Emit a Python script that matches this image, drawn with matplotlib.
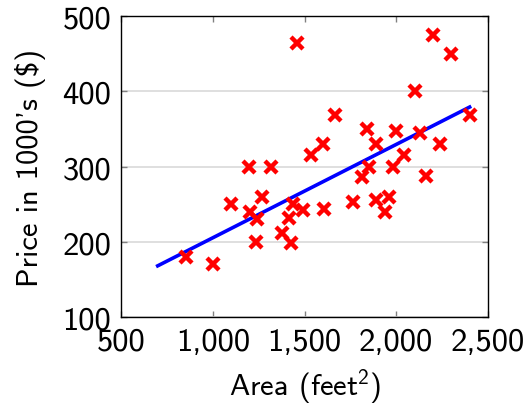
import matplotlib
matplotlib.use("Agg")
import matplotlib.pyplot as plt
from matplotlib.ticker import FuncFormatter

plt.rcParams['font.family'] = ['cmss10', 'DejaVu Sans']
plt.rcParams['mathtext.fontset'] = 'custom'
plt.rcParams['mathtext.rm'] = 'cmss10'
plt.rcParams['axes.formatter.use_mathtext'] = True

# house sizes (feet^2) and prices (1000's of $)
area = [2104, 1600, 2400, 1416, 1985, 1534, 1427, 1380, 1494, 1940,
        2000, 1890, 1268, 2300, 1320, 1236, 1767, 1888, 1604, 1962,
        1100, 1458, 2200, 1839, 1000, 2040, 1811, 1437, 1239, 2132,
        2162, 1664, 2238, 1200, 852, 1852, 1203]
price = [399.9, 329.9, 369.0, 232.0, 299.9, 314.9, 199.0, 212.0, 242.5, 240.0,
         347.0, 330.0, 259.9, 449.9, 299.9, 199.9, 252.9, 255.0, 242.9, 259.9,
         249.9, 464.5, 475.0, 349.9, 169.9, 314.9, 285.9, 249.9, 229.9, 345.0,
         287.0, 368.5, 329.9, 299.0, 179.9, 299.9, 239.5]

# fitted line end points
fit_x = [700, 2400]
fit_y = [168, 379]

xticks = [500, 1000, 1500, 2000, 2500]
yticks = [100, 200, 300, 400, 500]

fig = plt.figure(figsize=(5.25, 4.10), dpi=100)
ax = fig.add_axes([0.2305, 0.2244, 0.699, 0.7341])

ax.grid(axis='y', color='#d9d9d9', lw=1.2)
ax.set_axisbelow(True)
ax.plot(area, price, 'x', color='red', ms=9, mew=3.2, zorder=3)
ax.plot(fit_x, fit_y, color='blue', lw=2.6, zorder=2)

ax.set_xlim(500, 2500)
ax.set_ylim(100, 500)
ax.set_xticks(xticks)
ax.set_yticks(yticks)
ax.xaxis.set_major_formatter(FuncFormatter(lambda v, p: f"{int(v):,}"))
ax.yaxis.set_major_formatter(FuncFormatter(lambda v, p: f"{int(v)}"))
ax.tick_params(direction='in', top=True, right=True, length=4, width=1,
               color='#808080', labelsize=23.5, pad=7)
for s in ax.spines.values():
    s.set_linewidth(1)

ax.set_xlabel("Area (feet$^2$)", fontsize=22, labelpad=8)
ax.set_ylabel("Price in 1000's ($)", fontsize=22, labelpad=12)

fig.savefig("out.png", dpi=100)
